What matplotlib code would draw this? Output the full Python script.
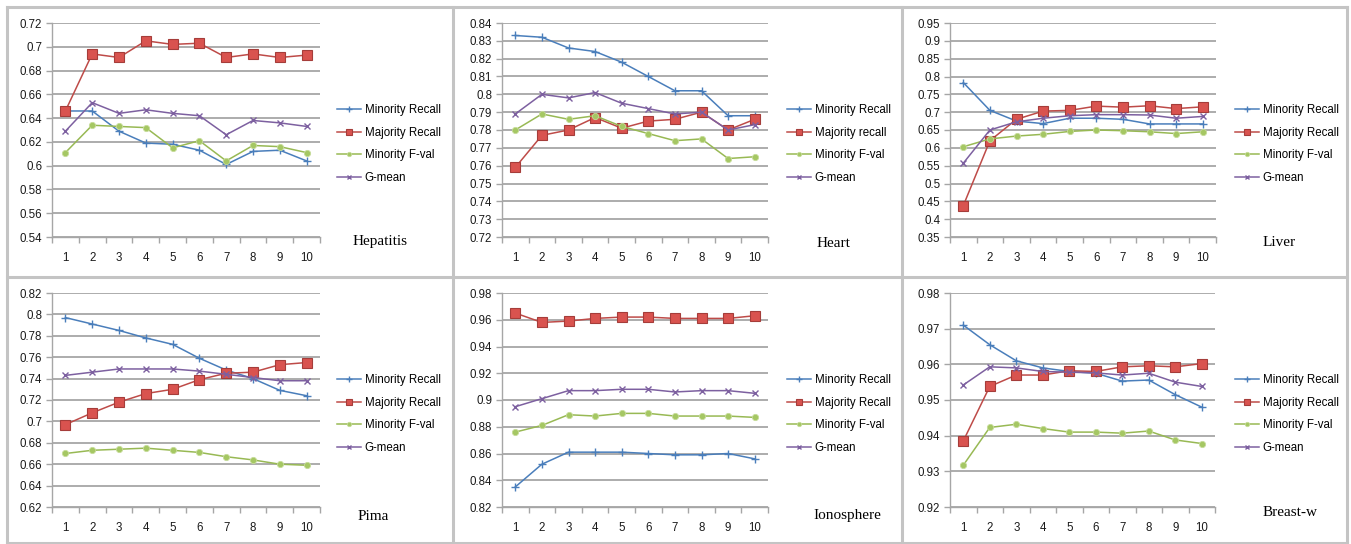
import numpy as np
import matplotlib
matplotlib.use('Agg')
import matplotlib.pyplot as plt
from matplotlib.lines import Line2D
from matplotlib.ticker import FixedLocator, FuncFormatter

W, H = 1351, 544

runs = [1, 2, 3, 4, 5, 6, 7, 8, 9, 10]

# Hepatitis
hep_min_recall = [0.646, 0.646, 0.629, 0.619, 0.618, 0.613, 0.601, 0.612, 0.613, 0.604]
hep_maj_recall = [0.646, 0.694, 0.691, 0.705, 0.702, 0.703, 0.691, 0.694, 0.691, 0.693]
hep_min_fval = [0.611, 0.634, 0.633, 0.632, 0.615, 0.621, 0.604, 0.617, 0.616, 0.611]
hep_gmean = [0.629, 0.653, 0.644, 0.647, 0.644, 0.642, 0.626, 0.638, 0.636, 0.633]

# Heart
heart_min_recall = [0.833, 0.832, 0.826, 0.824, 0.818, 0.810, 0.802, 0.802, 0.788, 0.788]
heart_maj_recall = [0.759, 0.777, 0.780, 0.787, 0.781, 0.785, 0.786, 0.790, 0.780, 0.786]
heart_min_fval = [0.780, 0.789, 0.786, 0.788, 0.782, 0.778, 0.774, 0.775, 0.764, 0.765]
heart_gmean = [0.789, 0.800, 0.798, 0.801, 0.795, 0.792, 0.789, 0.790, 0.780, 0.783]

# Liver
liver_min_recall = [0.783, 0.705, 0.675, 0.668, 0.683, 0.683, 0.680, 0.667, 0.667, 0.667]
liver_maj_recall = [0.438, 0.620, 0.680, 0.703, 0.705, 0.717, 0.714, 0.718, 0.710, 0.715]
liver_min_fval = [0.603, 0.625, 0.633, 0.638, 0.646, 0.650, 0.648, 0.645, 0.640, 0.645]
liver_gmean = [0.557, 0.650, 0.673, 0.683, 0.690, 0.693, 0.693, 0.692, 0.683, 0.688]

# Pima
pima_min_recall = [0.797, 0.791, 0.785, 0.778, 0.772, 0.759, 0.748, 0.740, 0.729, 0.724]
pima_maj_recall = [0.697, 0.708, 0.718, 0.726, 0.730, 0.739, 0.745, 0.746, 0.753, 0.755]
pima_min_fval = [0.670, 0.673, 0.674, 0.675, 0.673, 0.671, 0.667, 0.664, 0.660, 0.659]
pima_gmean = [0.743, 0.746, 0.749, 0.749, 0.749, 0.747, 0.744, 0.741, 0.738, 0.738]

# Ionosphere
iono_min_recall = [0.835, 0.852, 0.861, 0.861, 0.861, 0.860, 0.859, 0.859, 0.860, 0.856]
iono_maj_recall = [0.965, 0.958, 0.959, 0.961, 0.962, 0.962, 0.961, 0.961, 0.961, 0.963]
iono_min_fval = [0.876, 0.881, 0.889, 0.888, 0.890, 0.890, 0.888, 0.888, 0.888, 0.887]
iono_gmean = [0.895, 0.901, 0.907, 0.907, 0.908, 0.908, 0.906, 0.907, 0.907, 0.905]

# Breast-w
breast_min_recall = [0.971, 0.9655, 0.961, 0.959, 0.958, 0.9575, 0.9553, 0.9556, 0.9515, 0.948]
breast_maj_recall = [0.9385, 0.9538, 0.957, 0.957, 0.9582, 0.958, 0.9593, 0.9596, 0.9593, 0.9602]
breast_min_fval = [0.9317, 0.9423, 0.9432, 0.942, 0.941, 0.941, 0.9407, 0.9413, 0.9388, 0.9378]
breast_gmean = [0.9542, 0.9593, 0.959, 0.958, 0.9578, 0.9576, 0.957, 0.9575, 0.955, 0.9538]

labels = ['Minority Recall', 'Majority Recall', 'Minority F-val', 'G-mean']
labels_heart = ['Minority Recall', 'Majority recall', 'Minority F-val', 'G-mean']

# line styles (Excel 2007 look)
styles = [
    dict(color='#4a7ebb', marker='+', ms=5.5, mew=1.0),
    dict(color='#be4b48', marker='s', ms=6.5, mfc='#d9534f', mec='#a53d3a', mew=0.8),
    dict(color='#98b954', marker='o', ms=4.5, mfc='#a5c763', mec='#c6dc9a', mew=0.6),
    dict(color='#7d60a0', marker='x', ms=5, mew=1.0),
]

grid_col = '#a6a6a6'
tick_font = 'Liberation Sans'


def px_rect(x0, y0, x1, y1):
    return [x0 / W, 1 - y1 / H, (x1 - x0) / W, (y1 - y0) / H]


def panel(fig, rect, series, ymin, ymax, step, name, name_xy, leg_labels, leg_xy):
    ax = fig.add_axes(px_rect(*rect))
    for vals, st in zip(series, styles):
        ax.plot(runs, vals, lw=1.1, **st)
    ax.set_xlim(0.5, 10.5)
    ax.set_ylim(ymin, ymax)
    yt = np.round(np.arange(ymin, ymax + step / 2, step), 4)
    ax.set_yticks(yt)
    ax.yaxis.set_major_formatter(FuncFormatter(lambda v, p: '%g' % round(v, 4)))
    ax.xaxis.set_major_locator(FixedLocator(np.arange(0.5, 11, 1)))
    ax.xaxis.set_minor_locator(FixedLocator(runs))
    ax.set_xticklabels([])
    ax.set_xticklabels([str(r) for r in runs], minor=True)
    ax.tick_params(axis='x', which='major', length=4, width=1, color=grid_col, direction='out')
    ax.tick_params(axis='x', which='minor', length=0, pad=11, labelsize=8.3)
    ax.tick_params(axis='y', length=4, width=1, color=grid_col, direction='out', pad=3, labelsize=8.3)
    for lab in ax.get_xticklabels(minor=True) + ax.get_yticklabels():
        lab.set_fontfamily(tick_font)
        lab.set_color('#1a1a1a')
    ax.grid(axis='y', color=grid_col, lw=1.3)
    ax.set_axisbelow(True)
    for s in ['top', 'right']:
        ax.spines[s].set_visible(False)
    for s in ['left', 'bottom']:
        ax.spines[s].set_color(grid_col)
        ax.spines[s].set_linewidth(1)
    handles = [Line2D([], [], lw=1.1, **st) for st in styles]
    for h in handles:
        h.set_markersize(h.get_markersize() * 0.7)
    fig.legend(handles, leg_labels, loc='center left',
               bbox_to_anchor=(leg_xy[0] / W, 1 - leg_xy[1] / H),
               frameon=False, borderpad=0, borderaxespad=0,
               handlelength=2.1, handletextpad=0.3, labelspacing=0.94,
               prop={'family': tick_font, 'size': 8.3})
    fig.text(name_xy[0] / W, 1 - name_xy[1] / H, name, ha='left', va='center',
             family='Liberation Serif', fontsize=11)
    return ax


fig = plt.figure(figsize=(W / 100, H / 100), dpi=100)
fig.patch.set_facecolor('white')

panel(fig, (52, 23, 320, 237),
      [hep_min_recall, hep_maj_recall, hep_min_fval, hep_gmean],
      0.54, 0.72, 0.02, 'Hepatitis', (353, 241), labels, (337, 144))
panel(fig, (502, 23, 768, 237),
      [heart_min_recall, heart_maj_recall, heart_min_fval, heart_gmean],
      0.72, 0.84, 0.01, 'Heart', (817, 243), labels_heart, (787, 144))
panel(fig, (950, 23, 1216, 237),
      [liver_min_recall, liver_maj_recall, liver_min_fval, liver_gmean],
      0.35, 0.95, 0.05, 'Liver', (1263, 242), labels, (1235, 144))
panel(fig, (52, 293, 320, 507),
      [pima_min_recall, pima_maj_recall, pima_min_fval, pima_gmean],
      0.62, 0.82, 0.02, 'Pima', (358, 516), labels, (337, 414))
panel(fig, (502, 293, 768, 507),
      [iono_min_recall, iono_maj_recall, iono_min_fval, iono_gmean],
      0.82, 0.98, 0.02, 'Ionosphere', (813, 515), labels, (787, 414))
panel(fig, (950, 293, 1215, 507),
      [breast_min_recall, breast_maj_recall, breast_min_fval, breast_gmean],
      0.92, 0.98, 0.01, 'Breast-w', (1263, 513), labels, (1235, 414))

# panel borders
border_col = '#c4c4c4'
for yy in [7, 277, 543]:
    fig.add_artist(Line2D([7 / W, 1347 / W], [1 - yy / H, 1 - yy / H], color=border_col, lw=2.2))
for xx in [7, 453, 902, 1347]:
    fig.add_artist(Line2D([xx / W, xx / W], [1 - 7 / H, 1 - 543 / H], color=border_col, lw=2.2))

fig.savefig('out.png', dpi=100)
